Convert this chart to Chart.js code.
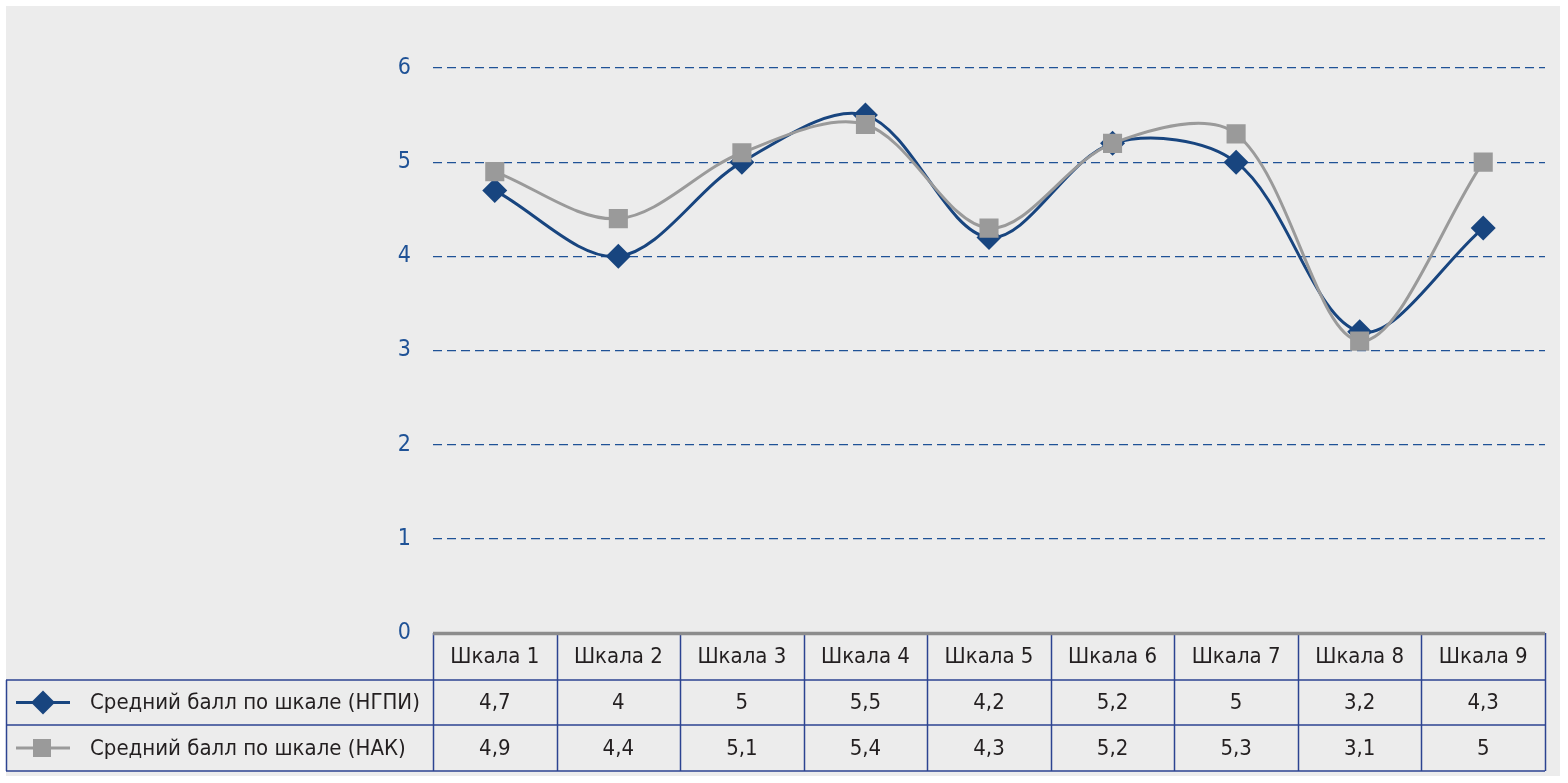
<!DOCTYPE html>
<html>
<head>
<meta charset="utf-8">
<script src="https://cdn.jsdelivr.net/npm/chart.js@4/dist/chart.umd.min.js"></script>
<style>
  html, body { margin: 0; padding: 0; background: #fff; }
  #wrap { width: 1568px; height: 783px; }
</style>
</head>
<body>
<div id="wrap"><canvas id="chart"></canvas></div>
<script>
// categories and series
const categories = ["Шкала 1", "Шкала 2", "Шкала 3", "Шкала 4", "Шкала 5", "Шкала 6", "Шкала 7", "Шкала 8", "Шкала 9"];
const ngpiLabel = "Средний балл по шкале (НГПИ)";
const nakLabel = "Средний балл по шкале (НАК)";
const ngpiValues = [4.7, 4, 5, 5.5, 4.2, 5.2, 5, 3.2, 4.3];
const nakValues = [4.9, 4.4, 5.1, 5.4, 4.3, 5.2, 5.3, 3.1, 5];
const yTicks = [0, 1, 2, 3, 4, 5, 6];

const FONT = "'Liberation Sans Narrow', 'DejaVu Sans Condensed', 'Liberation Sans', sans-serif";
const BLUE = "#18457f";
const GREY = "#9a9a9a";
const TABLE_LINE = "#2c4391";

// number format with comma, like the source
const fmt = (v) => String(v).replace(".", ",");

// helper: draw the legend key (line + marker)
const drawKey = (ctx, cy, color, style) => {
  ctx.save();
  ctx.strokeStyle = color;
  ctx.lineWidth = 3;
  ctx.beginPath();
  ctx.moveTo(16, cy);
  ctx.lineTo(70, cy);
  ctx.stroke();
  ctx.fillStyle = color;
  if (style === "diamond") {
    ctx.beginPath();
    ctx.moveTo(43 - 12, cy);
    ctx.lineTo(43, cy - 12);
    ctx.lineTo(43 + 12, cy);
    ctx.lineTo(43, cy + 12);
    ctx.closePath();
    ctx.fill();
  } else {
    ctx.fillRect(33, cy - 9, 18, 18);
  }
  ctx.restore();
};

const panelPlugin = {
  id: "panel",
  beforeDraw(chart) {
    const ctx = chart.ctx;
    ctx.save();
    ctx.fillStyle = "#ffffff";
    ctx.fillRect(0, 0, chart.width, chart.height);
    ctx.fillStyle = "#ececec";
    ctx.fillRect(6, 6, 1554, 770);
    ctx.restore();
  },
  afterDraw(chart) {
    const ctx = chart.ctx;
    const x = chart.scales.x;
    const area = chart.chartArea;
    const colW = (area.right - area.left) / categories.length;
    const top = area.bottom;
    const rowH = [47, 45, 46];
    const y1 = top + rowH[0];
    const y2 = y1 + rowH[1];
    const y3 = y2 + rowH[2];

    ctx.save();
    // table grid
    ctx.strokeStyle = TABLE_LINE;
    ctx.lineWidth = 1.5;
    ctx.beginPath();
    for (let i = 0; i <= categories.length; i++) {
      const lx = Math.round(area.left + i * colW) + 0.5;
      ctx.moveTo(lx, top);
      ctx.lineTo(lx, y3);
    }
    ctx.moveTo(6, y1);
    ctx.lineTo(area.right, y1);
    ctx.moveTo(6, y2);
    ctx.lineTo(area.right, y2);
    ctx.moveTo(6, y3);
    ctx.lineTo(area.right, y3);
    ctx.moveTo(6.5, y1);
    ctx.lineTo(6.5, y3);
    ctx.stroke();

    // axis line at zero
    ctx.strokeStyle = "#8c8c8c";
    ctx.lineWidth = 3.5;
    ctx.beginPath();
    ctx.moveTo(area.left, top + 0.5);
    ctx.lineTo(area.right, top + 0.5);
    ctx.stroke();

    // texts
    ctx.fillStyle = "#231f20";
    ctx.font = "22px " + FONT;
    ctx.textAlign = "center";
    ctx.textBaseline = "middle";
    categories.forEach((c, i) => {
      const cx = x.getPixelForValue(i);
      ctx.fillText(c, cx, top + rowH[0] / 2 + 1);
      ctx.fillText(fmt(ngpiValues[i]), cx, y1 + rowH[1] / 2 + 1);
      ctx.fillText(fmt(nakValues[i]), cx, y2 + rowH[2] / 2 + 1);
    });
    ctx.textAlign = "left";
    ctx.fillText(ngpiLabel, 90, y1 + rowH[1] / 2 + 1);
    ctx.fillText(nakLabel, 90, y2 + rowH[2] / 2 + 1);
    ctx.restore();

    drawKey(ctx, y1 + rowH[1] / 2, BLUE, "diamond");
    drawKey(ctx, y2 + rowH[2] / 2, GREY, "square");
  },
};

new Chart(document.getElementById("chart"), {
  type: "line",
  data: {
    labels: categories,
    datasets: [
      {
        label: ngpiLabel,
        data: ngpiValues,
        borderColor: BLUE,
        backgroundColor: BLUE,
        borderWidth: 3,
        pointStyle: "rectRot",
        pointRadius: 12.5,
        pointHoverRadius: 12.5,
        pointBorderWidth: 0,
        tension: 0.33,
        order: 1,
      },
      {
        label: nakLabel,
        data: nakValues,
        borderColor: GREY,
        backgroundColor: GREY,
        borderWidth: 3,
        pointStyle: "rect",
        pointRadius: 13.5,
        pointHoverRadius: 13.5,
        pointBorderWidth: 0,
        tension: 0.33,
        order: 0,
      },
    ],
  },
  options: {
    responsive: true,
    maintainAspectRatio: false,
    animation: false,
    layout: { padding: { top: 68, bottom: 150, right: 23, left: 0 } },
    plugins: {
      legend: { display: false },
      tooltip: { enabled: false },
    },
    scales: {
      x: {
        display: false,
        offset: true,
      },
      y: {
        min: 0,
        max: 6,
        afterFit: (scale) => { scale.width = 433; },
        afterBuildTicks: (scale) => { scale.ticks = yTicks.map((v) => ({ value: v })); },
        grid: {
          drawTicks: false,
          color: (c) => (c.tick && c.tick.value === 0 ? "rgba(0,0,0,0)" : "#1f5296"),
          lineWidth: 1.2,
        },
        border: { display: false, dash: [9, 5] },
        ticks: {
          color: "#1f5296",
          padding: 22,
          font: { family: FONT, size: 23 },
        },
      },
    },
  },
  plugins: [panelPlugin],
});
</script>
</body>
</html>
